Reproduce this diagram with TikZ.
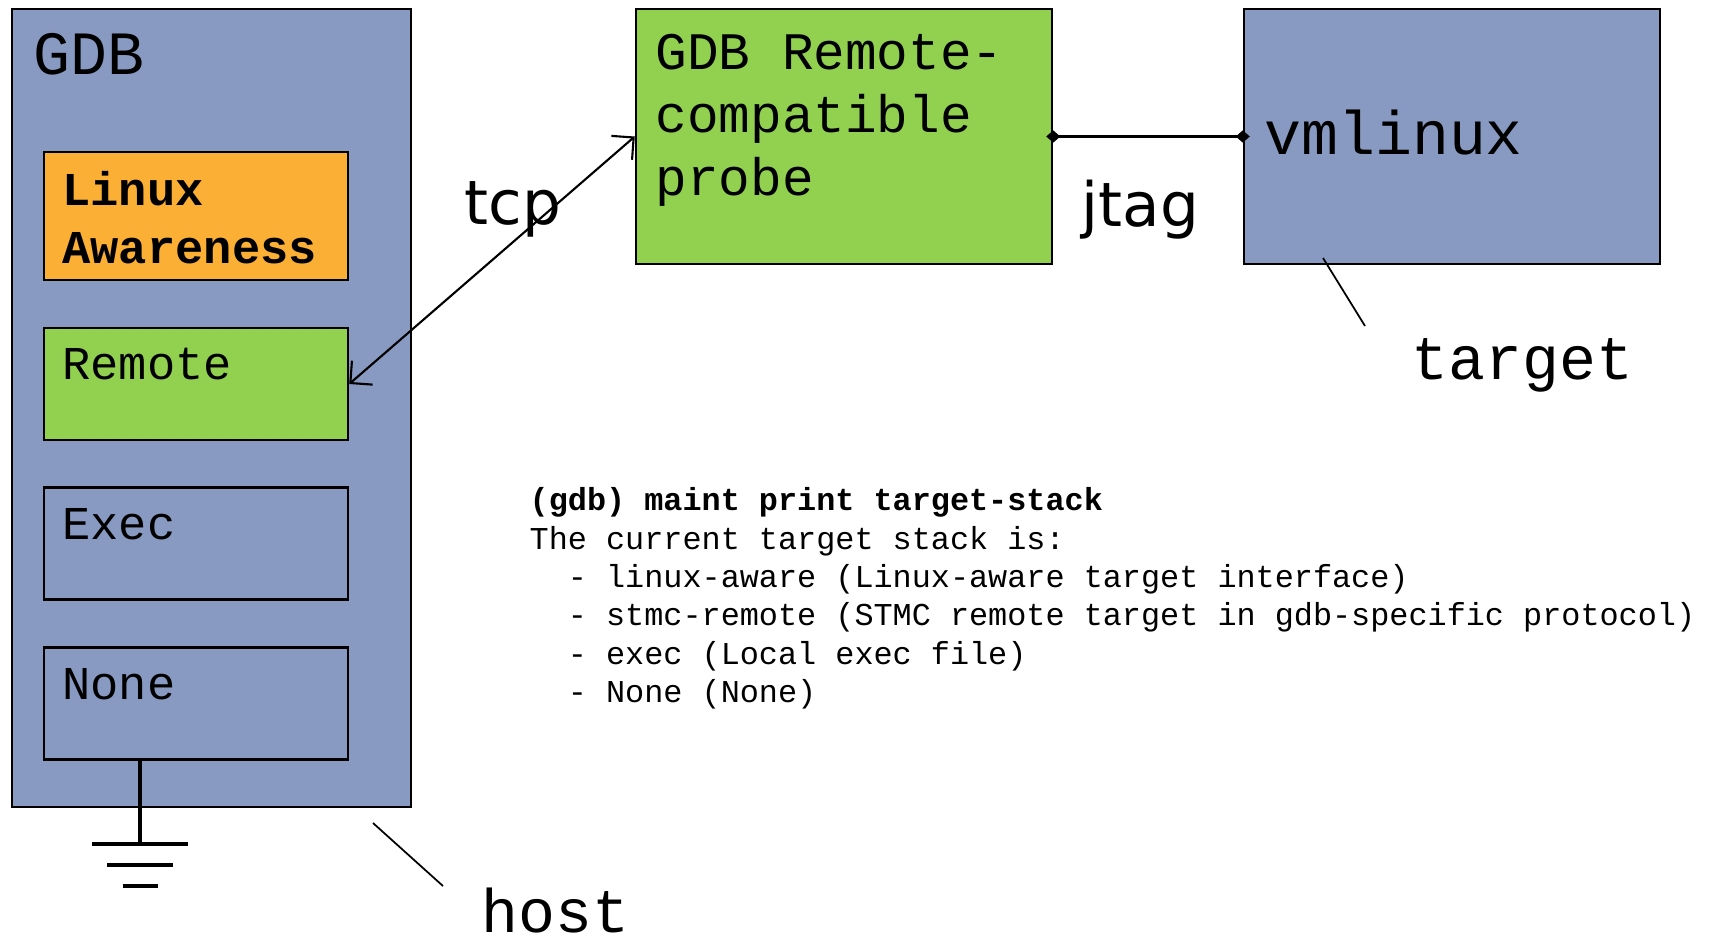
\documentclass[tikz,border=0pt]{standalone}
\usepackage{fontspec}
\usepackage{tikz}
\usetikzlibrary{
	arrows.meta,
	positioning
}
\usepackage{xcolor}

\newfontfamily\monofont{Liberation Mono}
\newfontfamily\linkfont{DejaVu Sans}

\definecolor{stackblue}{RGB}{136,154,193}
\definecolor{probegreen}{RGB}{146,208,80}
\definecolor{awareorange}{RGB}{251,175,52}

\begin{document}
\begin{tikzpicture}[
		>={Straight Barb[length=4.5pt,width=9pt]},
		stackbox/.style={
			draw,
			line width=0.7pt,
			inner sep=0pt,
			minimum width=3.04cm,
			minimum height=1.12cm
		},
		boxtext/.style={
			anchor=base west,
			inner sep=0pt,
			font=\monofont\fontsize{13.4}{16.5}\selectfont
		},
		bigtext/.style={
			anchor=base west,
			inner sep=0pt,
			font=\monofont\fontsize{17.5}{21}\selectfont
		},
		linktext/.style={
			anchor=base west,
			inner sep=0pt,
			font=\linkfont\fontsize{17.4}{20}\selectfont
		}
		]
		\useasboundingbox (0,0) rectangle (17.15,9.40);
		
		% Host
		\node[stackbox, fill=stackblue, minimum width=3.99cm, minimum height=7.98cm] (gdb) at (2.115,5.32) {};
		\node[bigtext] (gdbtext) at (0.33,8.66) {GDB};
		
		% Target stack (base = last line)
		\node[stackbox, fill=awareorange, minimum height=1.28cm] (aware) at (1.96,7.24) {};
		\node[boxtext, align=left, font=\monofont\bfseries\fontsize{13.4}{16.5}\selectfont] (awaretext) at ([shift={(0.19,-1.13)}]aware.north west) {Linux\\Awareness};
		
		\node[stackbox, fill=probegreen] (remote) at (1.96,5.56) {};
		\node[boxtext] (remotetext) at ([shift={(0.19,-0.53)}]remote.north west) {Remote};
		
		\foreach \name/\txt/\y in {exec/Exec/3.965,none/None/2.365} {
			\node[stackbox, fill=stackblue] (\name) at (1.96,\y) {};
			\node[boxtext] (\name text) at ([shift={(0.19,-0.53)}]\name.north west) {\txt};
		}
		
		% Ground
		\coordinate (gnd) at (1.40,0.96);
		\draw[line width=1.1pt] (none.south -| gnd) -- (gnd);
		\draw[line width=1.1pt] ([xshift=-0.48cm]gnd) -- ([xshift=0.48cm]gnd);
		\draw[line width=1.1pt] ([shift={(-0.33,-0.21)}]gnd) -- ([shift={(0.33,-0.21)}]gnd);
		\draw[line width=1.1pt] ([shift={(-0.175,-0.42)}]gnd) -- ([shift={(0.175,-0.42)}]gnd);
		
		\node[bigtext] (host) at (4.81,0.08) {host};
		\coordinate (hostpin) at (3.73,1.17);
		\coordinate (hostend) at (4.43,0.54);
		\draw[line width=0.5pt] (hostpin) -- (hostend);
		
		% Probe
		\node[stackbox, fill=probegreen, minimum width=4.16cm, minimum height=2.55cm] (probe) at (8.44,8.035) {};
		\node[anchor=base west, inner sep=0pt, align=left, font=\monofont\fontsize{15}{18}\selectfont] (probetext) at ([shift={(0.20,-1.88)}]probe.north west) {GDB Remote-\\compatible\\probe};
		
		% Target
		\node[stackbox, fill=stackblue, minimum width=4.16cm, minimum height=2.55cm] (vmlinux) at (14.52,8.035) {};
		\node[bigtext] (vmtext) at ([shift={(0.21,-1.47)}]vmlinux.north west) {vmlinux};
		
		\node[bigtext] (target) at (14.11,5.61) {target};
		\coordinate (targetpin) at (13.23,6.82);
		\coordinate (targetend) at (13.65,6.14);
		\draw[line width=0.5pt] (targetpin) -- (targetend);
		
		% Links
		\draw[<->, line width=0.6pt] (probe.west) -- (remote.east);
		\draw[{Diamond[length=4pt,width=3.5pt]}-{Diamond[length=4pt,width=3.5pt]}, line width=0.9pt, shorten <=-2pt, shorten >=-2pt] (probe.east) -- (vmlinux.west);
		\node[linktext] (tcp) at (4.64,7.16) {tcp};
		\node[linktext] (jtag) at (10.81,7.14) {jtag};
		
		% Console output (base = last line)
		\node[anchor=base west, inner sep=0pt, align=left, font=\monofont\fontsize{9.06}{10.9}\selectfont\frenchspacing] (console) at (5.29,2.375) {\textbf{(gdb) maint print target-stack}\\
			The current target stack is:\\
			\phantom{xx}- linux-aware (Linux-aware target interface)\\
			\phantom{xx}- stmc-remote (STMC remote target in gdb-specific protocol)\\
			\phantom{xx}- exec (Local exec file)\\
			\phantom{xx}- None (None)};
		
	\end{tikzpicture}
\end{document}
